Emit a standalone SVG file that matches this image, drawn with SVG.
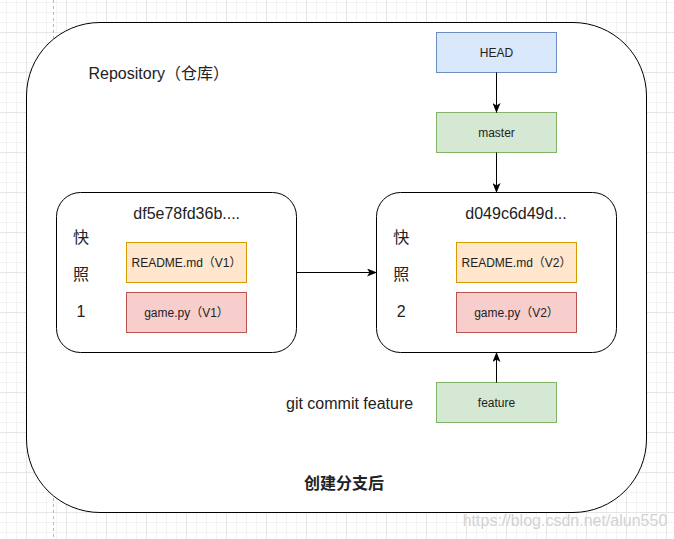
<svg xmlns="http://www.w3.org/2000/svg" width="674" height="539" viewBox="0 0 674 539">
  <defs>
    <pattern id="grid" x="26" y="32" width="40" height="40" patternUnits="userSpaceOnUse">
      <path d="M10.5,0V40M20.5,0V40M30.5,0V40M0,10.5H40M0,20.5H40M0,30.5H40" stroke="#f3f3f3" stroke-width="1" fill="none"/>
      <path d="M0.5,0V40M0,0.5H40" stroke="#e6e6e6" stroke-width="1" fill="none"/>
    </pattern>
    <marker id="arrow" viewBox="0 0 10 8" refX="9.5" refY="4" markerWidth="10" markerHeight="8" markerUnits="userSpaceOnUse" orient="auto">
      <path d="M0,0 L10,4 L0,8 L2.5,4 Z" fill="#000"/>
    </marker>
    <style>
      .t { font-family: "Liberation Sans", "Noto Sans CJK SC", Arial, sans-serif; fill: #222; }
      .big { font-size: 16px; }
      .small { font-size: 12px; text-anchor: middle; }
      .cjk { font-size: 16px; text-anchor: middle; }
      .box { stroke-width: 1; }
      .blue { fill: #dae8fc; stroke: #6c8ebf; }
      .green { fill: #d5e8d4; stroke: #82b366; }
      .orange { fill: #ffe6cc; stroke: #d79b00; }
      .red { fill: #f8cecc; stroke: #b85450; }
      .snap { fill: #fff; stroke: #000; stroke-width: 1; }
      .edge { stroke: #000; stroke-width: 1; fill: none; marker-end: url(#arrow); }
    </style>
  </defs>

  <rect x="0" y="0" width="674" height="539" fill="#fff"/>
  <rect x="0" y="0" width="674" height="539" fill="url(#grid)"/>
  <line x1="53.5" y1="0" x2="53.5" y2="539" stroke="#b8b8b8" stroke-dasharray="3,3"/>

  <g id="repository">
    <rect x="26.5" y="22.5" width="620" height="490" rx="73.5" ry="73.5" fill="#fff" stroke="#000"/>
    <text class="t big" x="88.5" y="79">Repository（仓库）</text>
    <text class="t" x="344" y="489" font-size="16" font-weight="bold" text-anchor="middle" fill="#000">创建分支后</text>
  </g>

  <g id="snapshot1">
    <rect class="snap" x="56.5" y="192.5" width="240" height="160" rx="24" ry="24"/>
    <text class="t big" x="133.3" y="218.5">df5e78fd36b....</text>
    <text class="t cjk" x="81" y="242.5">快</text>
    <text class="t cjk" x="81" y="279.5">照</text>
    <text class="t cjk" x="81" y="317">1</text>
  </g>
  <g id="readme1">
    <rect class="box orange" x="126.5" y="242.5" width="120" height="40"/>
    <text class="t small" x="186.5" y="266.8">README.md（V1）</text>
  </g>
  <g id="game1">
    <rect class="box red" x="126.5" y="292.5" width="120" height="40"/>
    <text class="t small" x="186.5" y="316.8">game.py（V1）</text>
  </g>

  <g id="snapshot2">
    <rect class="snap" x="376.5" y="192.5" width="240" height="160" rx="24" ry="24"/>
    <text class="t big" x="465.3" y="218.5">d049c6d49d...</text>
    <text class="t cjk" x="401.3" y="242.5">快</text>
    <text class="t cjk" x="401.3" y="279.5">照</text>
    <text class="t cjk" x="401.3" y="317">2</text>
  </g>
  <g id="readme2">
    <rect class="box orange" x="456.5" y="242.5" width="120" height="40"/>
    <text class="t small" x="516.5" y="266.8">README.md（V2）</text>
  </g>
  <g id="game2">
    <rect class="box red" x="456.5" y="292.5" width="120" height="40"/>
    <text class="t small" x="516.5" y="316.8">game.py（V2）</text>
  </g>

  <g id="head">
    <rect class="box blue" x="436.5" y="32.5" width="120" height="40"/>
    <text class="t small" x="496.5" y="56.8">HEAD</text>
  </g>
  <g id="master">
    <rect class="box green" x="436.5" y="112.5" width="120" height="40"/>
    <text class="t small" x="496.5" y="136.8">master</text>
  </g>
  <g id="feature">
    <rect class="box green" x="436.5" y="382.5" width="120" height="40"/>
    <text class="t small" x="496.5" y="406.8">feature</text>
  </g>
  <g id="commit-label">
    <text class="t big" x="286" y="409">git commit feature</text>
  </g>

  <g id="connectors">
    <path class="edge" d="M496.5,72.5 V112.5"/>
    <path class="edge" d="M496.5,152.5 V192.5"/>
    <path class="edge" d="M296.5,272.5 H376.5"/>
    <path class="edge" d="M496.5,382.5 V352.5"/>
  </g>

  <text x="462.7" y="526" font-family="Liberation Sans, Arial, sans-serif" font-size="16" fill="#d2d2d2">https://blog.csdn.net/alun550</text>
</svg>
